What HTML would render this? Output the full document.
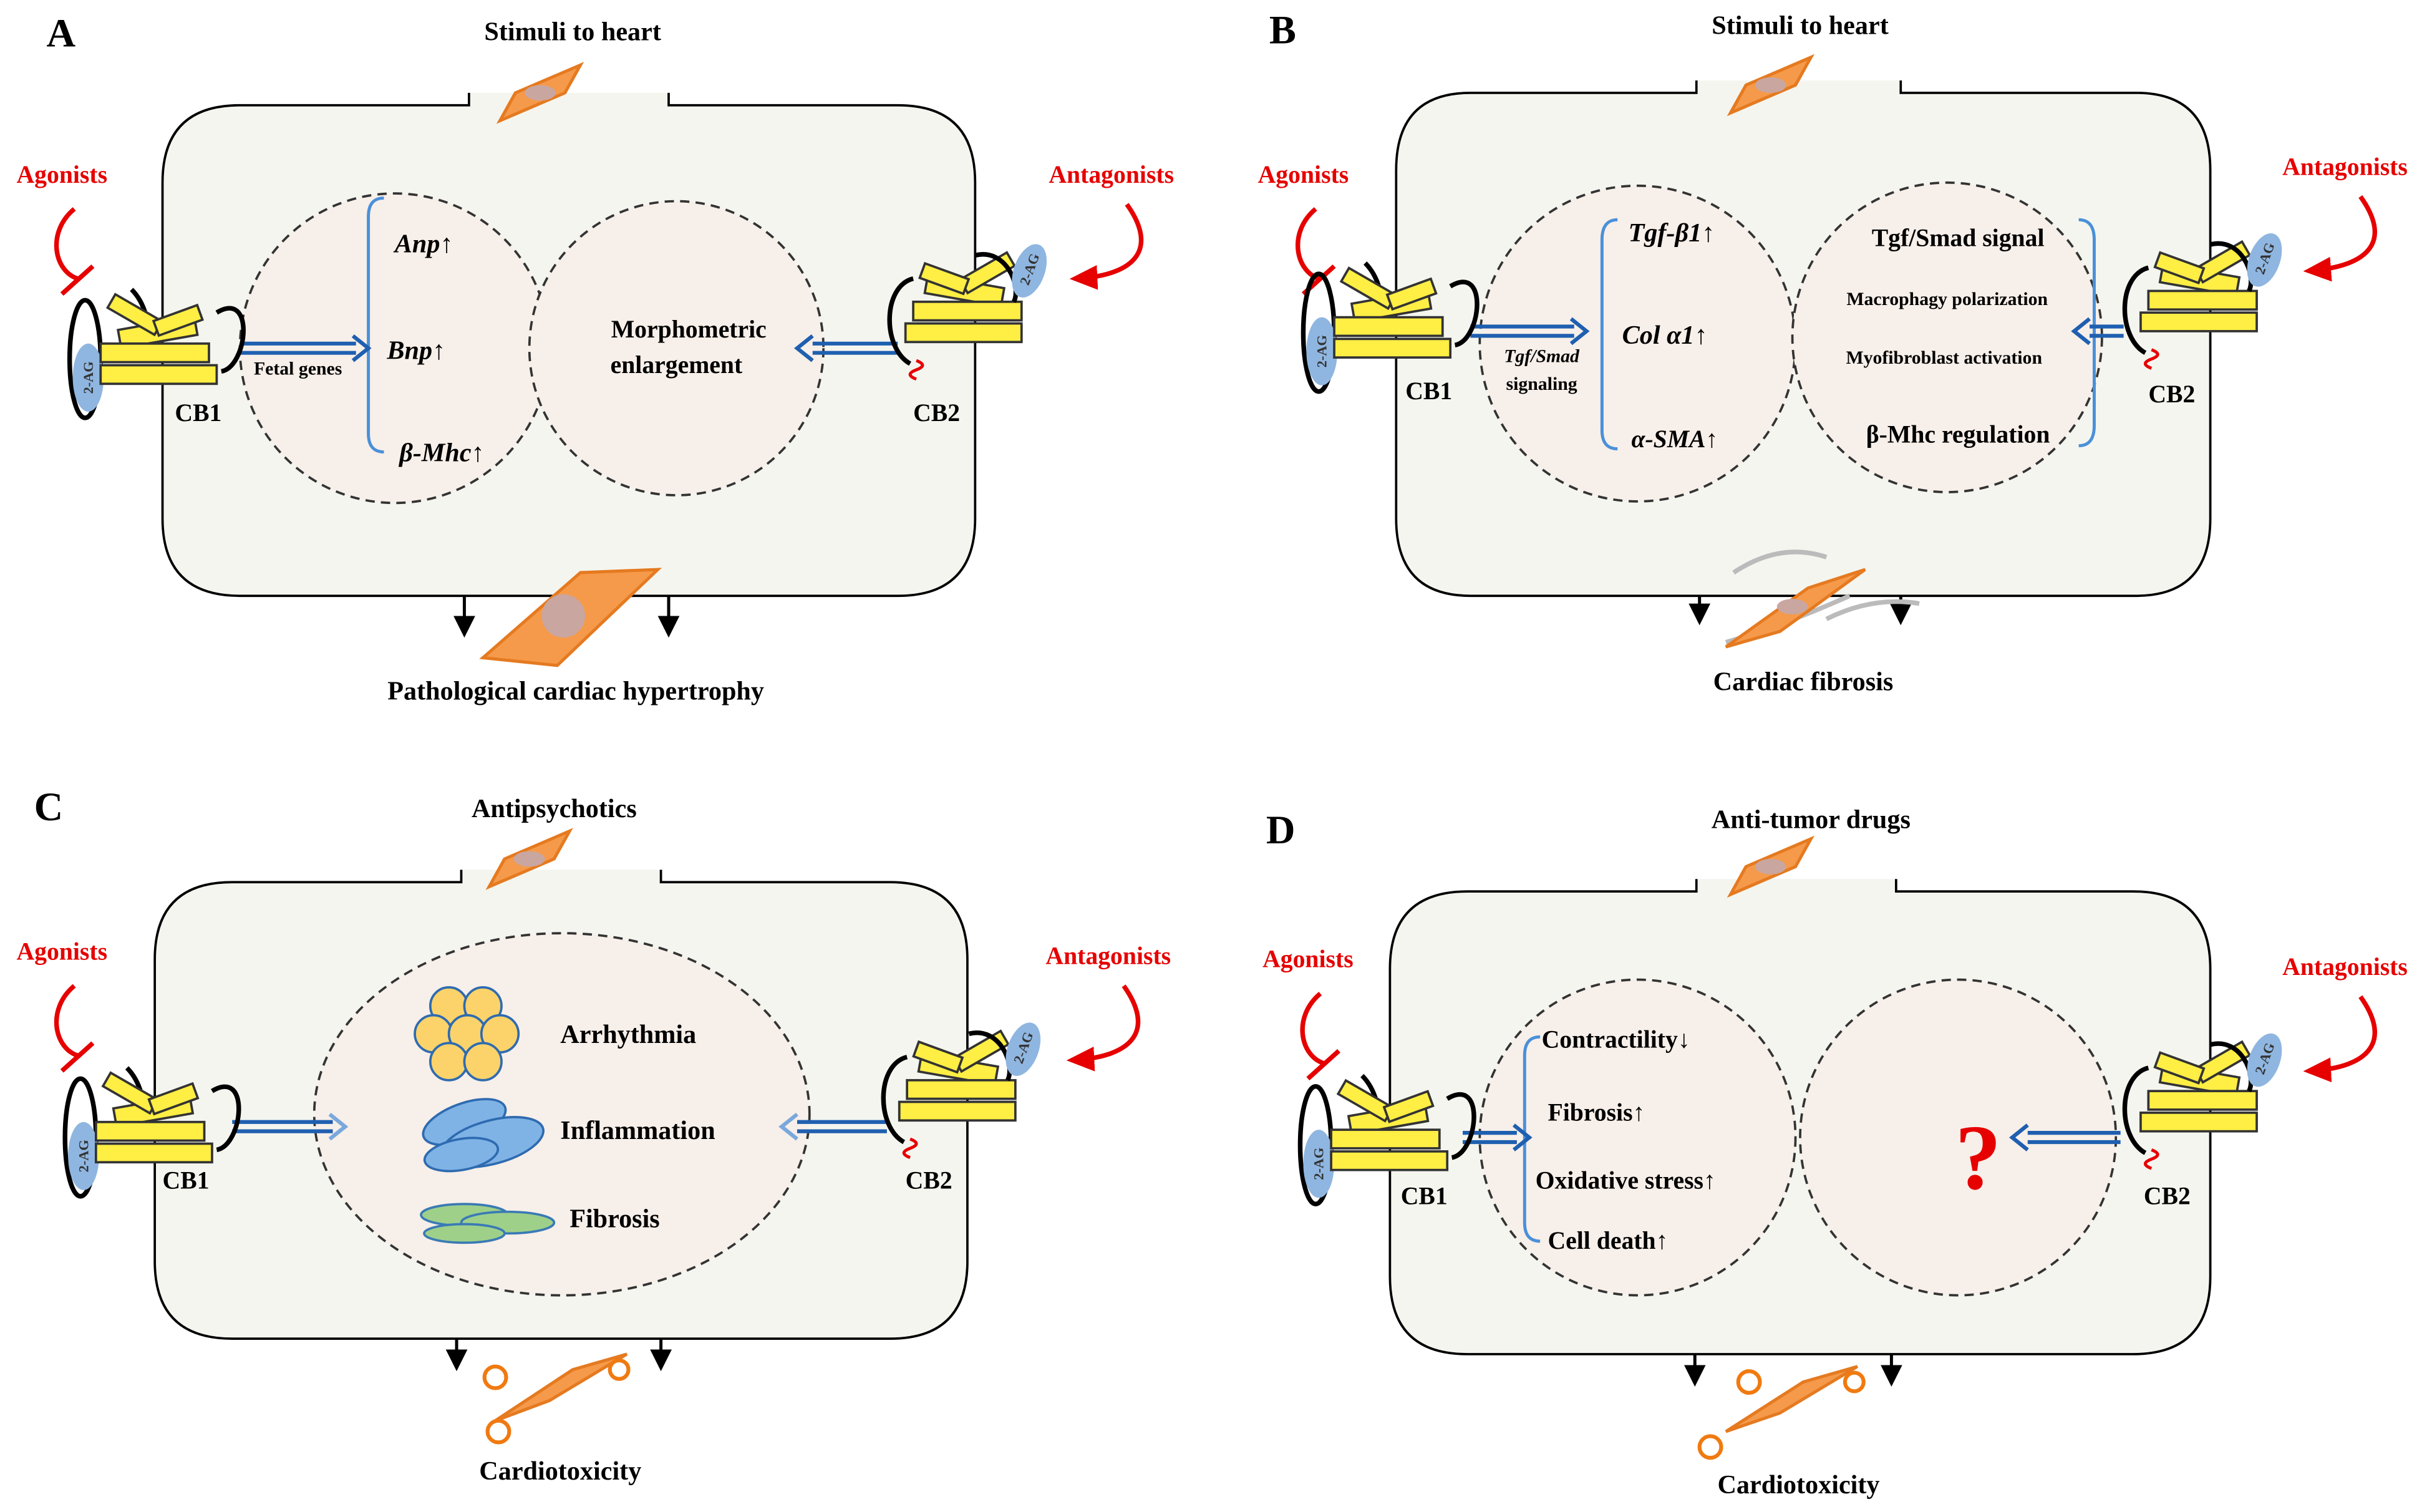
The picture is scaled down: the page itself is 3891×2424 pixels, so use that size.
<!DOCTYPE html>
<html><head><meta charset="utf-8"><style>
html,body{margin:0;padding:0;background:#fff}
svg{display:block}
text{font-family:"Liberation Serif",serif;font-weight:bold}
</style></head><body>
<svg width="3891" height="2424" viewBox="0 0 1568 977" preserveAspectRatio="none" xmlns="http://www.w3.org/2000/svg">
<defs>
<marker id="ah" markerWidth="14" markerHeight="14" refX="10" refY="7" orient="auto" markerUnits="userSpaceOnUse"><path d="M0,0 L14,7 L0,14 z" fill="#000"/></marker>
<marker id="rh" markerWidth="18" markerHeight="16" refX="14" refY="8" orient="auto" markerUnits="userSpaceOnUse"><path d="M0,0 L18,8 L0,16 z" fill="#e60000"/></marker>
<g id="bundle">
 <rect x="22" y="-22" width="50" height="12" fill="#ffee44" stroke="#333" stroke-width="1.5" transform="rotate(-10 40 -16)"/>
 <rect x="10" y="-10" width="70" height="12" fill="#ffee44" stroke="#333" stroke-width="1.5"/>
 <rect x="10" y="4" width="75" height="12" fill="#ffee44" stroke="#333" stroke-width="1.5"/>
 <rect x="15" y="-35" width="35" height="10" fill="#ffee44" stroke="#333" stroke-width="1.5" transform="rotate(30 30 -30)"/>
 <rect x="45" y="-30" width="30" height="10" fill="#ffee44" stroke="#333" stroke-width="1.5" transform="rotate(-20 60 -25)"/>
</g>
<g id="rec">
 <ellipse cx="0" cy="0" rx="10" ry="38" fill="none" stroke="#000" stroke-width="3"/>
 <ellipse cx="2" cy="12" rx="10" ry="22" fill="#8fb6e0"/>
 <text x="0" y="0" font-size="9" transform="translate(5,12) rotate(-90)" text-anchor="middle" fill="#333">2-AG</text>
 <path d="M30,-45 C45,-30 40,-5 45,0" fill="none" stroke="#000" stroke-width="3"/>
 <use href="#bundle"/>
 <path d="M85,-30 C110,-45 105,5 88,8" fill="none" stroke="#000" stroke-width="3"/>
</g>
<g id="rec2">
 <g transform="scale(-1,1)"><use href="#bundle"/></g>
 <path d="M-80,-25 C-100,-20 -100,20 -82,30" fill="none" stroke="#000" stroke-width="3"/>
 <path d="M-40,-40 C-20,-45 -10,-20 -15,-10" fill="none" stroke="#000" stroke-width="3"/>
 <ellipse cx="-5" cy="-30" rx="10" ry="18" fill="#8fb6e0" transform="rotate(20 -5 -30)"/>
 <text x="0" y="0" font-size="9" transform="translate(-2,-30) rotate(-70)" text-anchor="middle" fill="#333">2-AG</text>
 <path d="M-78,28 q8,3 0,6 q-8,3 0,6" fill="none" stroke="#e60000" stroke-width="2"/>
</g>
<g id="cell">
 <path d="M8,10 L50,-8 L40,10 L-2,28 z" fill="#f59a4a" stroke="#e57a20" stroke-width="2"/>
 <ellipse cx="24" cy="10" rx="10" ry="5" fill="#c9a6a0"/>
</g>
</defs>

<!-- ===== Panel A ===== -->
<g>
<text x="30" y="30" font-size="26" font-family="Liberation Sans">A</text>
<text x="370" y="26" font-size="17" text-anchor="middle">Stimuli to heart</text>
<path d="M303,60 V68 H155 Q105,68 105,118 V335 Q105,385 155,385 H580 Q630,385 630,335 V118 Q630,68 580,68 H432 V60" fill="#f4f5ef" stroke="#000" stroke-width="1.5"/>
<use href="#cell" x="325" y="50"/>
<circle cx="255" cy="225" r="100" fill="#f7efe9" stroke="#333" stroke-width="1.5" stroke-dasharray="6,4"/>
<circle cx="437" cy="225" r="95" fill="#f7efe9" stroke="#333" stroke-width="1.5" stroke-dasharray="6,4"/>
<path d="M248,128 Q238,128 238,140 V280 Q238,292 248,292" fill="none" stroke="#4a90d9" stroke-width="2"/>
<text x="255" y="163" font-size="17" font-style="italic">Anp↑</text>
<text x="250" y="232" font-size="17" font-style="italic">Bnp↑</text>
<text x="258" y="298" font-size="17" font-style="italic">β-Mhc↑</text>
<text x="164" y="242" font-size="12">Fetal genes</text>
<text x="445" y="218" font-size="16" text-anchor="middle">Morphometric</text>
<text x="437" y="241" font-size="16" text-anchor="middle">enlargement</text>
<path d="M155,222 H230 M155,228 H230" stroke="#1f5fb0" stroke-width="2.5"/><path d="M228,217 L238,225 L228,233" fill="none" stroke="#1f5fb0" stroke-width="2.5"/>
<path d="M525,222 H580 M525,228 H580" stroke="#1f5fb0" stroke-width="2.5"/><path d="M525,217 L515,225 L525,233" fill="none" stroke="#1f5fb0" stroke-width="2.5"/>
<text x="40" y="118" font-size="16" fill="#e60000" text-anchor="middle">Agonists</text>
<path d="M48,135 C30,150 35,175 50,180 M40,190 L60,172" fill="none" stroke="#e60000" stroke-width="3"/>
<use href="#rec" x="55" y="232"/>
<text x="113" y="272" font-size="16">CB1</text>
<text x="718" y="118" font-size="16" fill="#e60000" text-anchor="middle">Antagonists</text>
<path d="M728,132 C748,160 735,178 695,180" fill="none" stroke="#e60000" stroke-width="3" marker-end="url(#rh)"/>
<use href="#rec2" x="670" y="205"/>
<text x="590" y="272" font-size="16">CB2</text>
<line x1="300" y1="385" x2="300" y2="408" stroke="#000" stroke-width="2" marker-end="url(#ah)"/>
<line x1="432" y1="385" x2="432" y2="408" stroke="#000" stroke-width="2" marker-end="url(#ah)"/>
<path d="M312,425 L375,370 L425,368 L360,430 z" fill="#f59a4a" stroke="#e57a20" stroke-width="2"/>
<circle cx="364" cy="398" r="14" fill="#c9a6a0"/>
<text x="372" y="452" font-size="17" text-anchor="middle">Pathological cardiac hypertrophy</text>
</g>

<!-- ===== Panel B ===== -->
<g>
<text x="820" y="28" font-size="26" font-family="Liberation Sans">B</text>
<text x="1163" y="22" font-size="17" text-anchor="middle">Stimuli to heart</text>
<path d="M1096,52 V60 H950 Q902,60 902,110 V335 Q902,385 950,385 H1380 Q1428,385 1428,335 V110 Q1428,60 1380,60 H1228 V52" fill="#f4f5ef" stroke="#000" stroke-width="1.5"/>
<use href="#cell" x="1120" y="45"/>
<circle cx="1058" cy="222" r="102" fill="#f7efe9" stroke="#333" stroke-width="1.5" stroke-dasharray="6,4"/>
<circle cx="1258" cy="218" r="100" fill="#f7efe9" stroke="#333" stroke-width="1.5" stroke-dasharray="6,4"/>
<path d="M1045,142 Q1035,142 1035,155 V278 Q1035,290 1045,290" fill="none" stroke="#4a90d9" stroke-width="2"/>
<text x="1052" y="156" font-size="17" font-style="italic">Tgf-β1↑</text>
<text x="1048" y="222" font-size="17" font-style="italic">Col α1↑</text>
<text x="1054" y="289" font-size="16" font-style="italic">α-SMA↑</text>
<text x="996" y="234" font-size="12" font-style="italic" text-anchor="middle">Tgf/Smad</text>
<text x="996" y="252" font-size="12" text-anchor="middle">signaling</text>
<path d="M1343,142 Q1353,142 1353,155 V275 Q1353,288 1343,288" fill="none" stroke="#4a90d9" stroke-width="2"/>
<text x="1265" y="159" font-size="16" text-anchor="middle">Tgf/Smad signal</text>
<text x="1258" y="197" font-size="12" text-anchor="middle">Macrophagy polarization</text>
<text x="1256" y="235" font-size="12" text-anchor="middle">Myofibroblast activation</text>
<text x="1265" y="286" font-size="16" text-anchor="middle">β-Mhc regulation</text>
<path d="M950,211 H1017 M950,217 H1017" stroke="#1f5fb0" stroke-width="2.5"/><path d="M1015,206 L1025,214 L1015,222" fill="none" stroke="#1f5fb0" stroke-width="2.5"/>
<path d="M1350,211 H1372 M1350,217 H1372" stroke="#1f5fb0" stroke-width="2.5"/><path d="M1350,206 L1340,214 L1350,222" fill="none" stroke="#1f5fb0" stroke-width="2.5"/>
<text x="842" y="118" font-size="16" fill="#e60000" text-anchor="middle">Agonists</text>
<path d="M850,135 C832,150 837,175 852,180 M842,190 L862,172" fill="none" stroke="#e60000" stroke-width="3"/>
<use href="#rec" x="852" y="215"/>
<text x="908" y="258" font-size="16">CB1</text>
<text x="1515" y="113" font-size="16" fill="#e60000" text-anchor="middle">Antagonists</text>
<path d="M1525,127 C1545,155 1532,172 1492,175" fill="none" stroke="#e60000" stroke-width="3" marker-end="url(#rh)"/>
<use href="#rec2" x="1468" y="198"/>
<text x="1388" y="260" font-size="16">CB2</text>
<line x1="1098" y1="385" x2="1098" y2="400" stroke="#000" stroke-width="2" marker-end="url(#ah)"/>
<line x1="1228" y1="385" x2="1228" y2="400" stroke="#000" stroke-width="2" marker-end="url(#ah)"/>
<path d="M1120,370 Q1150,350 1180,360 M1115,415 Q1150,405 1195,385 M1180,400 Q1210,385 1240,390" fill="none" stroke="#bbb" stroke-width="3"/>
<path d="M1115,418 L1168,380 L1205,368 L1150,408 z" fill="#f59a4a" stroke="#e57a20" stroke-width="2"/>
<ellipse cx="1158" cy="392" rx="10" ry="5" fill="#c9a6a0"/>
<text x="1165" y="446" font-size="17" text-anchor="middle">Cardiac fibrosis</text>
</g>

<!-- ===== Panel C ===== -->
<g>
<text x="22" y="530" font-size="26" font-family="Liberation Sans">C</text>
<text x="358" y="528" font-size="17" text-anchor="middle">Antipsychotics</text>
<path d="M298,562 V570 H150 Q100,570 100,620 V815 Q100,865 150,865 H575 Q625,865 625,815 V620 Q625,570 575,570 H427 V562" fill="#f4f5ef" stroke="#000" stroke-width="1.5"/>
<use href="#cell" x="318" y="545"/>
<ellipse cx="363" cy="720" rx="160" ry="117" fill="#f7efe9" stroke="#333" stroke-width="1.5" stroke-dasharray="6,4"/>
<g fill="#fbd36a" stroke="#2e6bb0" stroke-width="1.5">
<circle cx="290" cy="650" r="12"/><circle cx="312" cy="650" r="12"/><circle cx="280" cy="668" r="12"/><circle cx="302" cy="668" r="12"/><circle cx="323" cy="668" r="12"/><circle cx="290" cy="686" r="12"/><circle cx="312" cy="686" r="12"/></g>
<text x="362" y="674" font-size="17">Arrhythmia</text>
<g fill="#7fb3e6" stroke="#2e6bb0" stroke-width="1.5">
<ellipse cx="300" cy="725" rx="28" ry="12" transform="rotate(-20 300 725)"/><ellipse cx="318" cy="738" rx="34" ry="14" transform="rotate(-15 318 738)"/><ellipse cx="298" cy="746" rx="24" ry="10" transform="rotate(-10 298 746)"/></g>
<text x="362" y="736" font-size="17">Inflammation</text>
<g fill="#9fd08a" stroke="#3a7ab5" stroke-width="1.5">
<ellipse cx="300" cy="785" rx="28" ry="7"/><ellipse cx="328" cy="790" rx="30" ry="7"/><ellipse cx="300" cy="797" rx="26" ry="6"/></g>
<text x="368" y="793" font-size="17">Fibrosis</text>
<path d="M150,725 H215 M150,731 H215" stroke="#1f5fb0" stroke-width="2.5"/><path d="M213,720 L223,728 L213,736" fill="none" stroke="#7aa8dd" stroke-width="2.5"/>
<path d="M515,725 H573 M515,731 H573" stroke="#1f5fb0" stroke-width="2.5"/><path d="M515,720 L505,728 L515,736" fill="none" stroke="#7aa8dd" stroke-width="2.5"/>
<text x="40" y="620" font-size="16" fill="#e60000" text-anchor="middle">Agonists</text>
<path d="M48,637 C30,652 35,677 50,682 M40,692 L60,674" fill="none" stroke="#e60000" stroke-width="3"/>
<use href="#rec" x="52" y="735"/>
<text x="105" y="768" font-size="16">CB1</text>
<text x="716" y="623" font-size="16" fill="#e60000" text-anchor="middle">Antagonists</text>
<path d="M726,637 C746,665 733,683 693,685" fill="none" stroke="#e60000" stroke-width="3" marker-end="url(#rh)"/>
<use href="#rec2" x="666" y="708"/>
<text x="585" y="768" font-size="16">CB2</text>
<line x1="295" y1="865" x2="295" y2="882" stroke="#000" stroke-width="2" marker-end="url(#ah)"/>
<line x1="427" y1="865" x2="427" y2="882" stroke="#000" stroke-width="2" marker-end="url(#ah)"/>
<path d="M320,918 L370,885 L405,875 L355,905 z" fill="#f59a4a" stroke="#e57a20" stroke-width="2"/>
<circle cx="320" cy="890" r="7" fill="none" stroke="#f07a10" stroke-width="2.5"/><circle cx="322" cy="925" r="7" fill="none" stroke="#f07a10" stroke-width="2.5"/><circle cx="400" cy="885" r="6" fill="none" stroke="#f07a10" stroke-width="2.5"/>
<text x="362" y="956" font-size="17" text-anchor="middle">Cardiotoxicity</text>
</g>

<!-- ===== Panel D ===== -->
<g>
<text x="818" y="545" font-size="26" font-family="Liberation Sans">D</text>
<text x="1170" y="535" font-size="17" text-anchor="middle">Anti-tumor drugs</text>
<path d="M1096,568 V576 H948 Q898,576 898,626 V825 Q898,875 948,875 H1378 Q1428,875 1428,825 V626 Q1428,576 1378,576 H1225 V568" fill="#f4f5ef" stroke="#000" stroke-width="1.5"/>
<use href="#cell" x="1120" y="550"/>
<circle cx="1058" cy="735" r="102" fill="#f7efe9" stroke="#333" stroke-width="1.5" stroke-dasharray="6,4"/>
<circle cx="1265" cy="735" r="102" fill="#f7efe9" stroke="#333" stroke-width="1.5" stroke-dasharray="6,4"/>
<path d="M995,670 Q985,670 985,682 V790 Q985,802 995,802" fill="none" stroke="#4a90d9" stroke-width="2"/>
<text x="996" y="677" font-size="16">Contractility↓</text>
<text x="1000" y="724" font-size="16">Fibrosis↑</text>
<text x="992" y="768" font-size="16">Oxidative stress↑</text>
<text x="1000" y="807" font-size="16">Cell death↑</text>
<text x="1278" y="768" font-size="60" fill="#e60000" text-anchor="middle" font-family="Liberation Sans">?</text>
<path d="M945,732 H980 M945,738 H980" stroke="#1f5fb0" stroke-width="2.5"/><path d="M978,727 L988,735 L978,743" fill="none" stroke="#1f5fb0" stroke-width="2.5"/>
<path d="M1310,732 H1370 M1310,738 H1370" stroke="#1f5fb0" stroke-width="2.5"/><path d="M1310,727 L1300,735 L1310,743" fill="none" stroke="#1f5fb0" stroke-width="2.5"/>
<text x="845" y="625" font-size="16" fill="#e60000" text-anchor="middle">Agonists</text>
<path d="M853,642 C835,657 840,682 855,687 M845,697 L865,679" fill="none" stroke="#e60000" stroke-width="3"/>
<use href="#rec" x="850" y="740"/>
<text x="905" y="778" font-size="16">CB1</text>
<text x="1515" y="630" font-size="16" fill="#e60000" text-anchor="middle">Antagonists</text>
<path d="M1525,644 C1545,672 1532,690 1492,692" fill="none" stroke="#e60000" stroke-width="3" marker-end="url(#rh)"/>
<use href="#rec2" x="1468" y="715"/>
<text x="1385" y="778" font-size="16">CB2</text>
<line x1="1095" y1="875" x2="1095" y2="892" stroke="#000" stroke-width="2" marker-end="url(#ah)"/>
<line x1="1222" y1="875" x2="1222" y2="892" stroke="#000" stroke-width="2" marker-end="url(#ah)"/>
<path d="M1115,925 L1165,893 L1200,883 L1150,913 z" fill="#f59a4a" stroke="#e57a20" stroke-width="2"/>
<circle cx="1130" cy="893" r="7" fill="none" stroke="#f07a10" stroke-width="2.5"/><circle cx="1105" cy="935" r="7" fill="none" stroke="#f07a10" stroke-width="2.5"/><circle cx="1198" cy="893" r="6" fill="none" stroke="#f07a10" stroke-width="2.5"/>
<text x="1162" y="965" font-size="17" text-anchor="middle">Cardiotoxicity</text>
</g>
</svg>
</body></html>
